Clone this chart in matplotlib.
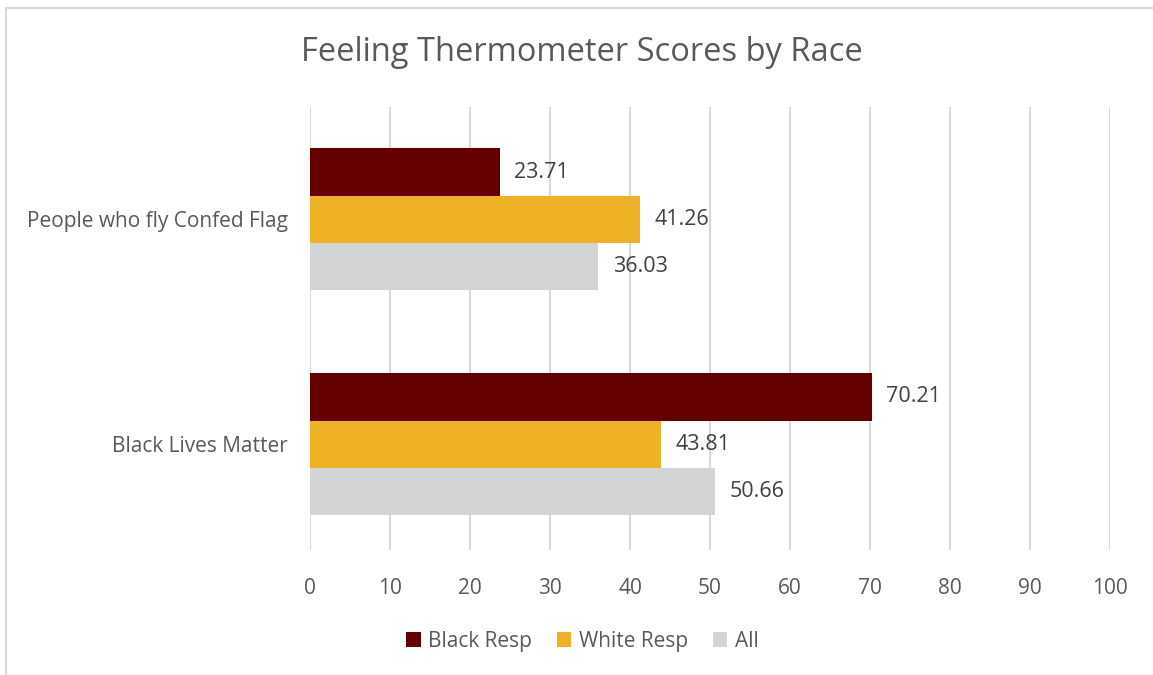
import numpy as np
import matplotlib.pyplot as plt
from matplotlib.lines import Line2D

# data
categories = ["Black Lives Matter", "People who fly Confed Flag"]
black_resp = [70.21, 23.71]
white_resp = [43.81, 41.26]
all_resp = [50.66, 36.03]
series_names = ["Black Resp", "White Resp", "All"]
colors = ["#660000", "#EFB226", "#D3D4D6"]

plt.rcParams['font.family'] = ['Open Sans', 'DejaVu Sans']
text_col = "#595959"

fig = plt.figure(figsize=(11.53, 6.75), dpi=100)
ax = fig.add_axes([0.2689, 0.1852, 0.6938, 0.6563])

y = np.arange(len(categories))
h = 0.209
offsets = [h, 0, -h]
for vals, off, name, c in zip([black_resp, white_resp, all_resp], offsets, series_names, colors):
    bars = ax.barh(y + off, vals, height=h, color=c, label=name, zorder=3)
    for b, v in zip(bars, vals):
        ax.annotate(f"{v:.2f}", (v, b.get_y() + b.get_height() / 2), xytext=(10.5, 0),
                    textcoords="offset points", va="center", ha="left",
                    fontsize=15.5, color="#404040")

ax.set_xlim(0, 100)
ax.set_ylim(-0.471, 1.498)
ax.set_xticks(np.arange(0, 101, 10))
ax.set_yticks(y)
ax.set_yticklabels(categories)
ax.tick_params(axis='both', length=0, labelsize=15, labelcolor=text_col)
ax.tick_params(axis='x', pad=20)
ax.tick_params(axis='y', pad=16)
ax.grid(axis='x', color="#D9D9D9", linewidth=1.5, zorder=0)
for s in ax.spines.values():
    s.set_visible(False)

fig.text(0.505, 0.922, "Feeling Thermometer Scores by Race", ha="center", va="center",
         fontsize=23.5, color=text_col)

fig.legend(*ax.get_legend_handles_labels(), loc="center", bbox_to_anchor=(0.505, 0.05),
           ncol=3, frameon=False, fontsize=15, labelcolor=text_col, handlelength=0.7,
           handleheight=0.7, handletextpad=0.35, columnspacing=1.2)

# chart border (cropped screenshot: left and top edges only)
fig.add_artist(Line2D([0.005, 0.005], [0, 0.988], color="#D9D9D9", linewidth=1.5))
fig.add_artist(Line2D([0.005, 1], [0.988, 0.988], color="#D9D9D9", linewidth=1.5))

fig.savefig("out.png", dpi=100)
